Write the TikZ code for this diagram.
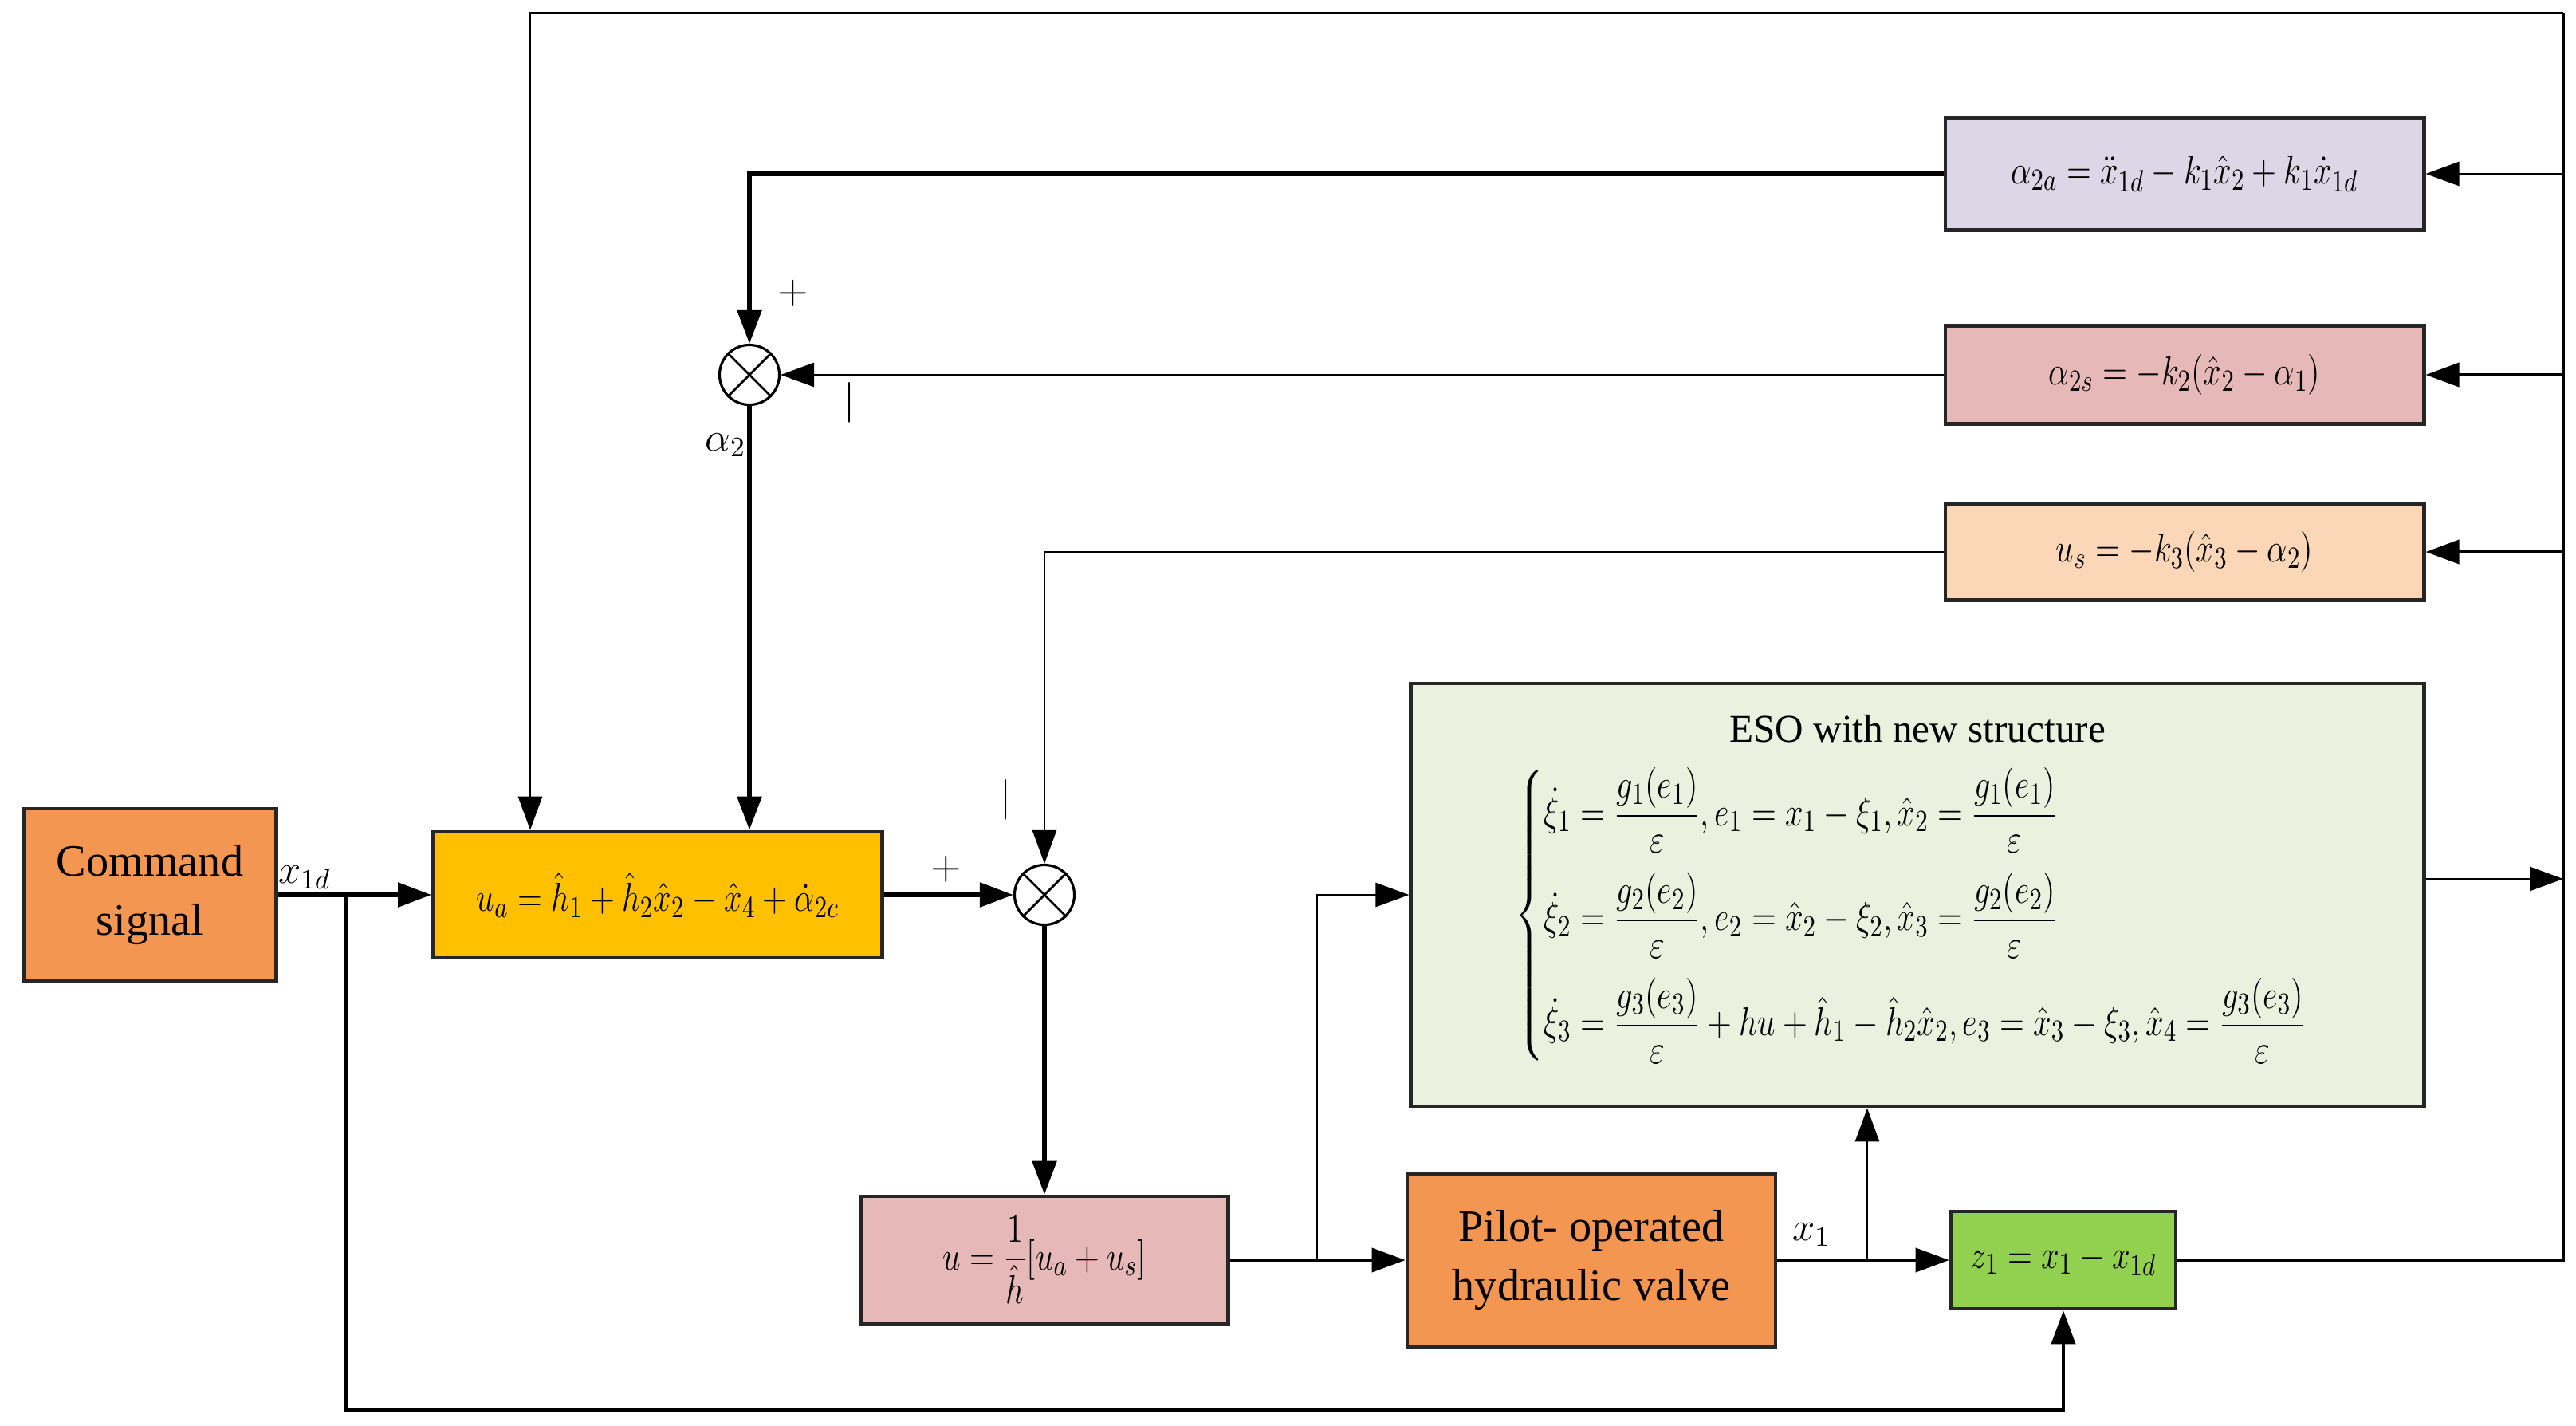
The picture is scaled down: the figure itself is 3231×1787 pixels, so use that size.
\documentclass[tikz,border=0pt]{standalone}
\usepackage{amsmath}
\usepackage{fontspec}
\setmainfont{Liberation Serif}
\usetikzlibrary{arrows.meta,calc}

\definecolor{cmdorange}{RGB}{242,150,82}
\definecolor{ygold}{RGB}{255,192,0}
\definecolor{lav}{RGB}{220,215,230}
\definecolor{rosy}{RGB}{230,185,184}
\definecolor{peachc}{RGB}{251,214,183}
\definecolor{esog}{RGB}{235,241,222}
\definecolor{zgreen}{RGB}{146,208,80}

\newcommand{\hsq}[1]{\scalebox{0.8}[1]{#1}}

\tikzset{
  blk/.style={draw=black!85, line width=1.3pt, inner sep=0pt, align=center,
              font=\fontsize{15}{18}\selectfont},
  sumj/.style={circle, draw, line width=0.9pt, minimum size=0.75cm, inner sep=0pt, fill=white},
  arr/.style={-{Triangle[length=0.42cm,width=0.3cm]}},
  thickln/.style={line width=1.6pt},
  medln/.style={line width=1.1pt},
  thinln/.style={line width=0.8pt},
  lbl/.style={font=\fontsize{14}{17}\selectfont, inner sep=0pt}
}

\begin{document}
\begin{tikzpicture}[x=0.01cm,y=-0.01cm]
\useasboundingbox[fill=white] (0,0) rectangle (3231,1787);

% blocks
\node[blk, fill=cmdorange, minimum width=3.17cm, minimum height=2.16cm,
      font=\fontsize{16}{21}\selectfont] (cmd) at (188,1122) {Command\\signal};
\node[blk, fill=ygold, minimum width=5.63cm, minimum height=1.58cm] (ya) at (825,1122)
  {\hsq{$u_a=\hat{h}_1+\hat{h}_2\hat{x}_2-\hat{x}_4+\dot{\alpha}_{2c}$}};
\node[blk, fill=lav, minimum width=6.0cm, minimum height=1.41cm] (pa) at (2740,218)
  {\hsq{$\alpha_{2a}=\ddot{x}_{1d}-k_1\hat{x}_2+k_1\dot{x}_{1d}$}};
\node[blk, fill=rosy, minimum width=6.0cm, minimum height=1.23cm] (pk) at (2740,470)
  {\hsq{$\alpha_{2s}=-k_2(\hat{x}_2-\alpha_1)$}};
\node[blk, fill=peachc, minimum width=6.0cm, minimum height=1.21cm] (pc) at (2740,692)
  {\hsq{$u_s=-k_3(\hat{x}_3-\alpha_2)$}};
\node[blk, fill=esog, minimum width=12.7cm, minimum height=5.3cm] (eso) at (2405,1122) {};
\node[lbl, font=\fontsize{14}{17}\selectfont] (esot) at (2405,914) {ESO with new structure};
\node[anchor=west, inner sep=0pt, font=\fontsize{15}{18}\selectfont] (esoeq) at (1900,1148)
  {\hsq{$\left\{\begin{aligned}
   &\dot{\xi}_1=\dfrac{g_1(e_1)}{\varepsilon},e_1=x_1-\xi_1,\hat{x}_2=\dfrac{g_1(e_1)}{\varepsilon}\\[3pt]
   &\dot{\xi}_2=\dfrac{g_2(e_2)}{\varepsilon},e_2=\hat{x}_2-\xi_2,\hat{x}_3=\dfrac{g_2(e_2)}{\varepsilon}\\[3pt]
   &\dot{\xi}_3=\dfrac{g_3(e_3)}{\varepsilon}+hu+\hat{h}_1-\hat{h}_2\hat{x}_2,e_3=\hat{x}_3-\xi_3,\hat{x}_4=\dfrac{g_3(e_3)}{\varepsilon}
  \end{aligned}\right.$}};
\node[blk, fill=rosy, minimum width=4.61cm, minimum height=1.6cm] (ub) at (1310,1580)
  {\hsq{$u=\dfrac{1}{\hat{h}}[u_a+u_s]$}};
\node[blk, fill=cmdorange, minimum width=4.62cm, minimum height=2.17cm,
      font=\fontsize{16}{21}\selectfont] (pv) at (1996,1580) {Pilot- operated\\hydraulic valve};
\node[blk, fill=zgreen, minimum width=2.82cm, minimum height=1.22cm] (zb) at (2588,1580)
  {\hsq{$z_1=x_1-x_{1d}$}};

% summing junctions
\node[sumj] (j1) at (940,470) {};
\draw[line width=0.8pt] (j1.north east) -- (j1.south west) (j1.north west) -- (j1.south east);
\node[sumj] (j2) at (1310,1122) {};
\draw[line width=0.8pt] (j2.north east) -- (j2.south west) (j2.north west) -- (j2.south east);

% coordinates
\coordinate (rt) at (3215,16);
\coordinate (tl) at (665,16);
\coordinate (b1) at (434,1122);
\coordinate (bb) at (434,1768);
\coordinate (b2) at (1652,1580);
\coordinate (b3) at (2342,1580);

% connectors
\draw[thickln,arr] (cmd.east) -- (ya.west);
\draw[medln,arr] (b1) -- (bb) -| (zb.south);
\draw[medln] (zb.east) -| (rt);
\draw[thinln,arr] (rt) -- (tl) -- (tl |- ya.north);
\draw[thinln,arr] (pa.east -| rt) -- (pa.east);
\draw[medln,arr] (pk.east -| rt) -- (pk.east);
\draw[medln,arr] (pc.east -| rt) -- (pc.east);
\draw[thinln,arr] ([yshift=0.2cm]eso.east) -- ([yshift=0.2cm]eso.east -| rt);

\draw[thickln,arr] (pa.west) -| (j1.north);
\draw[thinln,arr] (pk.west) -- (j1.east);
\draw[thickln,arr] (j1.south) -- (j1.south |- ya.north);
\draw[thinln,arr] (pc.west) -| (j2.north);
\draw[thickln,arr] (ya.east) -- (j2.west);
\draw[thickln,arr] (j2.south) -- (ub.north);
\draw[medln,arr] (ub.east) -- (pv.west);
\draw[thinln,arr] (b2) |- (eso.west);
\draw[medln,arr] (pv.east) -- (zb.west);
\draw[thinln,arr] (b3) -- (b3 |- eso.south);

% labels
\node[lbl] (lx1d) at (382,1100) {$x_{1d}$};
\node[lbl] (lx1) at (2272,1548) {$x_1$};
\node[lbl] (la2) at (910,558) {$\alpha_2$};
\node[lbl] (lp1) at (995,368) {$+$};
\node[lbl] (lm1) at (1066,505) {$|$};
\node[lbl] (lp2) at (1187,1090) {$+$};
\node[lbl] (lm2) at (1262,1003) {$|$};
\end{tikzpicture}
\end{document}
